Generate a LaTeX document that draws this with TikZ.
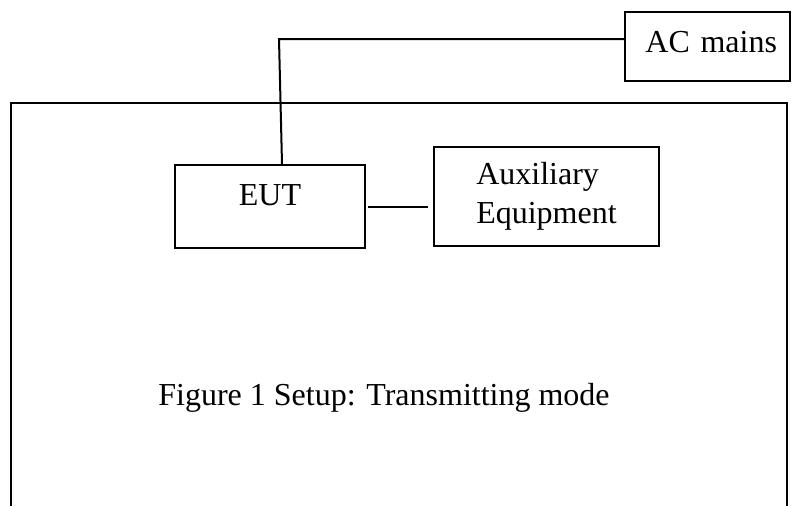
\documentclass[tikz,border=0pt]{standalone}
\usepackage{fontspec}
\setmainfont{Liberation Serif}
\usetikzlibrary{positioning}

\begin{document}
\begin{tikzpicture}[
    x=1pt, y=-1pt,
    every node/.style={font=\fontsize{32}{38.4}\selectfont},
    unitbox/.style={rectangle, draw, line width=2pt, inner sep=0pt},
    cable/.style={draw, line width=2pt}
]
\useasboundingbox (0,0) rectangle (792,506);

% test room
\draw[line width=2pt] (11,506) |- (787,103) -- (787,506);

\node[unitbox, minimum width=190pt, minimum height=83pt, text depth=22pt] (eut) at (270,206.5) {EUT};
\node[unitbox, minimum width=225pt, minimum height=99pt, align=left] (aux) at (546.5,196.5) {Auxiliary\\Equipment};
\node[unitbox, minimum width=165pt, minimum height=69pt, text depth=9pt, text width=139pt, align=right] (mains) at (707.5,46.5) {AC mains};

\coordinate (bend) at (279,39);
\coordinate (power) at ([xshift=12pt]eut.north);

\path[cable] (mains.west |- bend) -- (bend) -- (power);
\path[cable, shorten <=2pt, shorten >=5pt] (eut.east) -- (eut.east -| aux.west);

\node[anchor=base] (caption) at (384,405) {Figure 1 Setup: Transmitting mode};

\end{tikzpicture}
\end{document}
